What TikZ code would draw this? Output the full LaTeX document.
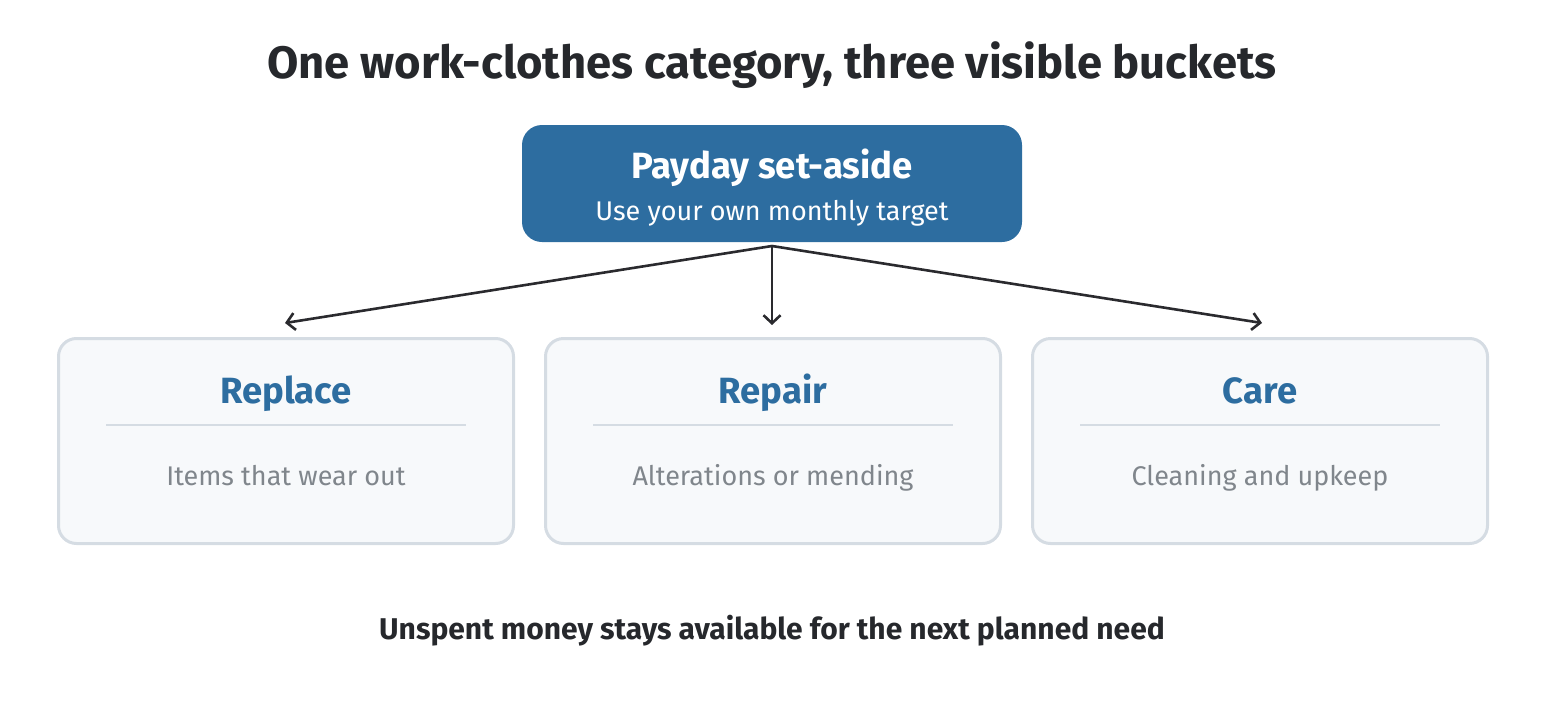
\documentclass[tikz,border=0pt]{standalone}
\usepackage{fontspec}
\setmainfont{Fira Sans}
\usetikzlibrary{arrows.meta}
\definecolor{darkt}{HTML}{26282C}
\definecolor{blueb}{HTML}{2D6DA0}
\definecolor{bord}{HTML}{D5DCE3}
\definecolor{fillb}{HTML}{F7F9FB}
\definecolor{greyt}{HTML}{80868C}
\definecolor{arr}{HTML}{2A2A2E}
\tikzset{
  topbox/.style={draw=none, fill=blueb, rounded corners=20pt, minimum width=500pt, minimum height=117pt, inner sep=0pt},
  bucket/.style={draw=bord, line width=3pt, fill=fillb, rounded corners=18pt, minimum width=455pt, minimum height=205pt, inner sep=0pt},
  btitle/.style={text=blueb, font=\fontsize{36.5}{42}\selectfont\bfseries, inner sep=0pt, anchor=base},
  bsub/.style={text=greyt, font=\fontsize{27}{32}\selectfont, inner sep=0pt, anchor=base},
  divider/.style={draw=bord, line width=1.5pt},
  conn/.style={draw=arr, line width=2.6pt, -{Straight Barb[length=8pt,width=17pt,line width=2.6pt]}},
}
\begin{document}
\begin{tikzpicture}[x=1pt,y=-1pt]
\useasboundingbox (0,0) rectangle (1546,720);
\node[text=darkt, font=\fontsize{45.4}{52}\selectfont\bfseries, inner sep=0pt, anchor=base] (title) at (772,78) {One work-clothes category, three visible buckets};
\node[topbox] (top) at (772,183.5) {};
\node[text=white, font=\fontsize{36.5}{42}\selectfont\bfseries, inner sep=0pt, anchor=base] (toptitle) at (772,178) {Payday set-aside};
\node[text=white, font=\fontsize{27}{32}\selectfont, inner sep=0pt, anchor=base] (topsub) at (772,220) {Use your own monthly target};
\coordinate (src) at (772,246);
\foreach \n/\cx/\t/\s in {a/286/Replace/Items that wear out, b/773/Repair/Alterations or mending, c/1260/Care/Cleaning and upkeep}{
  \node[bucket] (\n) at (\cx,441) {};
  \node[btitle] (\n t) at (\cx,403) {\t};
  \node[bsub] (\n s) at (\cx,485) {\s};
  \draw[divider] ([xshift=49pt]\n.west |- 0,425) -- ([xshift=-49pt]\n.east |- 0,425);
}
\coordinate (ea) at (285,323);
\coordinate (eb) at (772,325);
\coordinate (ec) at (1262,323);
\draw[conn] (src) -- (ea);
\draw[conn] (src) -- (eb);
\draw[conn] (src) -- (ec);
\node[text=darkt, font=\fontsize{30}{36}\selectfont\bfseries, inner sep=0pt, anchor=base] (foot) at (772,639) {Unspent money stays available for the next planned need};
\end{tikzpicture}
\end{document}
